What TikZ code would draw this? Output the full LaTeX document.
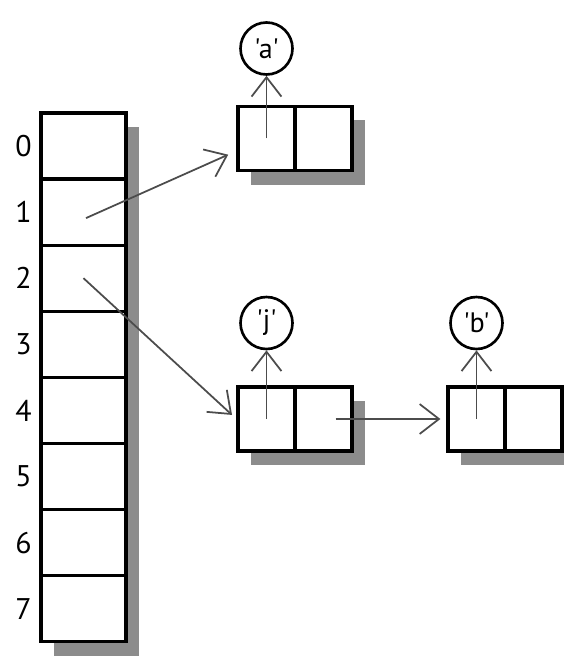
\documentclass[tikz,border=0pt]{standalone}
\usepackage{fontspec}
\setmainfont{PT Sans}[Ligatures=TeXOff]
\usetikzlibrary{arrows.meta, shadows, positioning}

\begin{document}
\begin{tikzpicture}[>={Straight Barb[length=11pt,width=17pt]},node distance=1.322cm,
  slot/.style={rectangle,draw,line width=1.8pt,fill=white,inner sep=0pt,
    minimum width=1.7cm,minimum height=1.322cm,
    drop shadow={shadow xshift=0.26cm,shadow yshift=-0.28cm,fill=black!45,opacity=1}},
  cell/.style={slot,minimum width=1.14cm,minimum height=1.28cm},
  char node/.style={circle,draw,line width=1.5pt,minimum size=1.04cm,inner sep=0pt,
    font=\fontsize{16}{18}\selectfont},
  idx/.style={font=\fontsize{17}{19}\selectfont}]
  \useasboundingbox (0,0) rectangle (11.26,-13.14);
  % the table
  \node[slot] (s0) at (1.67,-2.92) {};
  \node[slot] (s1) [below of=s0] {};
  \node[slot] (s2) [below of=s1] {};
  \node[slot] (s3) [below of=s2] {};
  \node[slot] (s4) [below of=s3] {};
  \node[slot] (s5) [below of=s4] {};
  \node[slot] (s6) [below of=s5] {};
  \node[slot] (s7) [below of=s6] {};
  \node[idx] (i0) [left of=s0, node distance=1.2cm] {0};
  \node[idx] (i1) [left of=s1, node distance=1.2cm] {1};
  \node[idx] (i2) [left of=s2, node distance=1.2cm] {2};
  \node[idx] (i3) [left of=s3, node distance=1.2cm] {3};
  \node[idx] (i4) [left of=s4, node distance=1.2cm] {4};
  \node[idx] (i5) [left of=s5, node distance=1.2cm] {5};
  \node[idx] (i6) [left of=s6, node distance=1.2cm] {6};
  \node[idx] (i7) [left of=s7, node distance=1.2cm] {7};
  % the lists
  \node[cell] (n1l) at (5.33,-2.77) {};
  \node[cell] (n1r) [right of=n1l, node distance=1.14cm] {};
  \node[cell] (n2l) at (5.33,-8.38) {};
  \node[cell] (n2r) [right of=n2l, node distance=1.14cm] {};
  \node[cell] (n3l) [right of=n2r, node distance=3.06cm] {};
  \node[cell] (n3r) [right of=n3l, node distance=1.14cm] {};
  \node[char node] (ka) [above of=n1l, node distance=1.8cm] {'a'};
  \node[char node] (kj) [above of=n2l, node distance=1.92cm] {'j'};
  \node[char node] (kb) [above of=n3l, node distance=1.92cm] {'b'};
  \path[every edge/.append style={->,draw=black!70,line width=1pt}]
    ([shift={(0.05,-0.12)}]s1.center) edge[shorten >=0.18cm] ([yshift=-0.25cm]n1l.west)
    (s2.center) edge[shorten >=0.12cm] (n2l.west)
    ([xshift=0.24cm]n2r.center) edge[shorten >=0.12cm] (n3l.west)
    (n1l.center) edge (ka)
    (n2l.center) edge (kj)
    (n3l.center) edge (kb);
\end{tikzpicture}
\end{document}
